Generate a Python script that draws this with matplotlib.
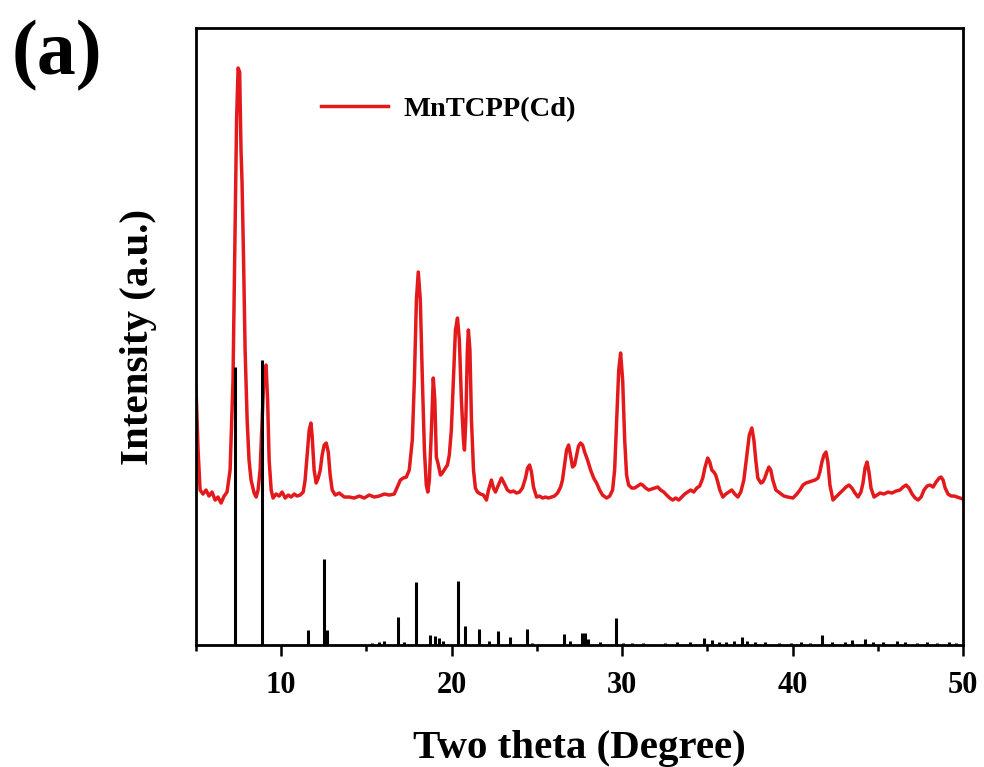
import matplotlib
matplotlib.use("Agg")
import matplotlib.pyplot as plt
from matplotlib.ticker import MultipleLocator

# Measured powder pattern of MnTCPP(Cd): 2-theta (deg) and intensity (a.u.)
two_theta = [
    5.00, 5.12, 5.24, 5.41, 5.59, 5.76, 5.94, 6.12, 6.29, 6.47,
    6.65, 6.82, 7.00, 7.17, 7.29, 7.38, 7.47, 7.56, 7.64, 7.70,
    7.79, 7.88, 8.00, 8.11, 8.23, 8.41, 8.53, 8.64, 8.76, 8.88,
    9.00, 9.11, 9.20, 9.29, 9.41, 9.52, 9.70, 9.88, 10.05, 10.23,
    10.41, 10.58, 10.76, 10.93, 11.11, 11.29, 11.40, 11.52, 11.64, 11.74,
    11.81, 11.93, 12.05, 12.17, 12.29, 12.40, 12.52, 12.64, 12.76, 12.87,
    12.99, 13.17, 13.40, 13.70, 13.99, 14.28, 14.58, 14.87, 15.16, 15.46,
    15.75, 16.05, 16.34, 16.63, 16.81, 16.99, 17.16, 17.34, 17.51, 17.69,
    17.81, 17.93, 18.04, 18.16, 18.28, 18.40, 18.51, 18.60, 18.69, 18.81,
    18.92, 19.01, 19.10, 19.22, 19.34, 19.45, 19.63, 19.75, 19.86, 19.98,
    20.10, 20.22, 20.34, 20.45, 20.57, 20.69, 20.75, 20.83, 20.92, 20.98,
    21.07, 21.16, 21.28, 21.39, 21.51, 21.69, 21.86, 22.04, 22.16, 22.33,
    22.45, 22.57, 22.74, 22.92, 23.10, 23.27, 23.45, 23.63, 23.80, 23.98,
    24.15, 24.33, 24.45, 24.57, 24.68, 24.80, 24.98, 25.15, 25.33, 25.51,
    25.68, 25.86, 26.03, 26.21, 26.39, 26.50, 26.62, 26.74, 26.86, 26.97,
    27.09, 27.21, 27.33, 27.44, 27.56, 27.68, 27.80, 27.97, 28.15, 28.33,
    28.50, 28.68, 28.85, 29.09, 29.27, 29.44, 29.56, 29.68, 29.80, 29.91,
    30.03, 30.15, 30.26, 30.38, 30.56, 30.73, 30.91, 31.09, 31.20, 31.38,
    31.56, 31.73, 31.91, 32.09, 32.26, 32.44, 32.61, 32.79, 32.97, 33.14,
    33.32, 33.50, 33.67, 33.85, 34.02, 34.20, 34.38, 34.55, 34.73, 34.85,
    35.02, 35.14, 35.26, 35.38, 35.49, 35.61, 35.73, 35.91, 36.08, 36.26,
    36.43, 36.61, 36.79, 36.96, 37.14, 37.32, 37.46, 37.61, 37.73, 37.84,
    37.96, 38.14, 38.25, 38.37, 38.49, 38.61, 38.72, 38.84, 39.02, 39.25,
    39.49, 39.72, 40.02, 40.25, 40.43, 40.61, 40.78, 40.96, 41.13, 41.31,
    41.49, 41.60, 41.72, 41.84, 41.96, 42.07, 42.19, 42.37, 42.54, 42.78,
    42.96, 43.13, 43.31, 43.48, 43.66, 43.84, 44.01, 44.13, 44.25, 44.37,
    44.48, 44.60, 44.78, 44.95, 45.13, 45.36, 45.60, 45.83, 46.07, 46.30,
    46.48, 46.66, 46.83, 47.01, 47.19, 47.36, 47.54, 47.71, 47.89, 48.07,
    48.24, 48.42, 48.60, 48.71, 48.83, 48.95, 49.12, 49.30, 49.48, 49.65,
    49.83, 50.00,
]
intensity = [
    257, 195, 155, 151, 155, 149, 153, 145, 148, 142,
    149, 153, 175, 265, 415, 525, 577, 573, 495, 463,
    385, 295, 225, 185, 165, 152, 148, 155, 175, 225,
    275, 280, 245, 185, 155, 147, 151, 149, 153, 147,
    150, 148, 151, 149, 150, 153, 165, 190, 215, 222,
    210, 175, 162, 167, 175, 190, 200, 202, 193, 170,
    155, 150, 152, 148, 148, 147, 149, 147, 150, 148,
    149, 151, 150, 151, 158, 165, 167, 168, 175, 205,
    265, 345, 373, 345, 265, 195, 160, 153, 165, 215,
    267, 245, 188, 180, 170, 172, 177, 180, 190, 215,
    265, 315, 327, 305, 245, 205, 195, 225, 295, 315,
    295, 225, 175, 157, 153, 151, 150, 145, 155, 165,
    157, 153, 160, 167, 161, 155, 153, 154, 152, 153,
    157, 167, 177, 180, 173, 158, 148, 149, 147, 148,
    147, 148, 149, 152, 158, 165, 180, 195, 200, 190,
    178, 180, 190, 199, 202, 200, 193, 185, 175, 167,
    162, 155, 150, 147, 149, 155, 175, 225, 275, 292,
    265, 205, 170, 160, 157, 157, 159, 161, 160, 157,
    155, 156, 157, 158, 155, 153, 150, 147, 145, 147,
    145, 148, 151, 153, 155, 153, 157, 159, 167, 177,
    187, 183, 175, 173, 170, 163, 155, 148, 151, 153,
    155, 151, 148, 153, 165, 190, 210, 217, 205, 185,
    167, 162, 163, 167, 173, 178, 175, 165, 155, 152,
    149, 148, 147, 151, 155, 160, 162, 163, 164, 165,
    167, 173, 183, 190, 193, 183, 160, 145, 148, 152,
    155, 158, 160, 157, 152, 148, 153, 162, 177, 183,
    173, 157, 148, 150, 152, 151, 153, 152, 154, 155,
    158, 160, 157, 151, 147, 145, 148, 155, 159, 160,
    158, 163, 167, 168, 165, 157, 151, 149, 149, 148,
    147, 146,
]

# Simulated reflections (stick pattern): positions and relative heights
sim_two_theta = [
    7.29, 8.86, 11.58, 12.48, 12.66, 15.34, 15.75, 16.05, 16.87, 17.22,
    17.91, 18.73, 19.04, 19.28, 19.51, 20.35, 20.80, 21.59, 22.16, 22.70,
    23.43, 24.41, 24.74, 26.56, 26.92, 27.62, 27.80, 27.97, 28.68, 29.66,
    30.05, 30.60, 31.20, 32.50, 33.20, 34.00, 34.81, 35.26, 35.70, 36.10,
    36.55, 37.02, 37.30, 37.80, 38.40, 39.20, 39.90, 40.50, 41.00, 41.72,
    42.30, 43.10, 43.50, 44.25, 44.70, 45.30, 46.10, 46.60, 47.30, 47.90,
    48.50, 49.20, 49.60,
]
sim_intensity = [
    278, 285, 15, 86, 15, 2, 3, 4, 28, 3,
    63, 10, 9, 7, 4, 64, 19, 16, 4, 14,
    8, 16, 2, 11, 4, 12, 12, 6, 3, 27,
    2, 2, 2, 2, 3, 3, 7, 5, 3, 3,
    4, 8, 4, 3, 3, 2, 2, 3, 2, 10,
    3, 3, 5, 6, 3, 3, 4, 3, 2, 3,
    2, 3, 2,
]

x_ticks = [10, 20, 30, 40, 50]
series_label = "MnTCPP(Cd)"
panel_label = "(a)"

plt.rcParams["font.family"] = ["Liberation Serif", "DejaVu Serif"]
plt.rcParams["font.weight"] = "bold"

fig = plt.figure(figsize=(9.84, 7.67), dpi=100)
ax = fig.add_axes([0.1992, 0.159, 0.7795, 0.8045])

red = "#e3191c"
ax.plot(two_theta, intensity, color=red, lw=2.5, label=series_label,
        solid_joinstyle="round", zorder=2)
ax.vlines(sim_two_theta, 0, sim_intensity, color="black", lw=2.2, zorder=3)

ax.set_xlim(5, 50)
ax.set_ylim(0, 617)
ax.set_xticks(x_ticks)
ax.xaxis.set_minor_locator(MultipleLocator(5))
ax.set_yticks([])

for side in ax.spines.values():
    side.set_linewidth(2.0)

ax.tick_params(axis="x", which="major", direction="out", length=8, width=1.8,
               labelsize=22, pad=11, top=False)
ax.tick_params(axis="x", which="minor", direction="out", length=4, width=1.8,
               top=False)
for lbl in ax.get_xticklabels():
    lbl.set_fontweight("bold")

ax.set_xlabel("Two theta (Degree)", fontsize=29.5, fontweight="bold", labelpad=21)
ax.set_ylabel("Intensity (a.u.)", fontsize=29.5, fontweight="bold", labelpad=28)

leg = ax.legend(loc="center left", bbox_to_anchor=(0.163, 0.868), frameon=False,
                borderpad=0, borderaxespad=0, handlelength=2.35,
                handletextpad=0.55, prop={"size": 20.5, "weight": "bold"})

fig.text(12 / 984, 1 - 56 / 767, panel_label, fontsize=56, fontweight="bold",
         ha="left", va="center")

fig.savefig("out.png", dpi=100)
